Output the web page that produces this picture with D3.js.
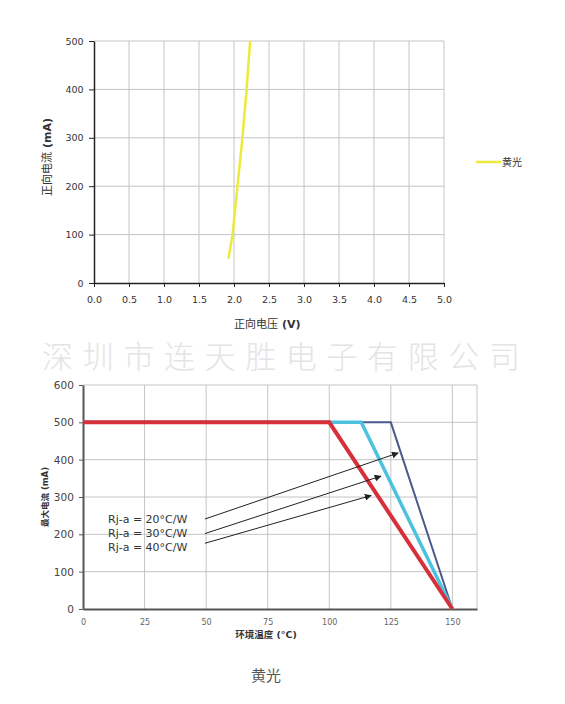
<!DOCTYPE html>
<html>
<head>
<meta charset="utf-8">
<title>黄光</title>
<script src="https://cdn.jsdelivr.net/npm/d3@7"></script>
<style>
    body { margin: 0; background: #fff; }
    svg { font-family: "DejaVu Sans", "Noto Sans CJK SC", sans-serif; }
    .grid line { stroke: #c4c4c4; stroke-width: 1; }
</style>
</head>
<body>
<div id="chart"></div>
<script>
// IV curve (top)
const ivVoltage = [1.92, 1.98, 2.05, 2.12, 2.18, 2.23];
const ivCurrent = [50, 100, 200, 300, 400, 500];
const ivTicksX = [0, 0.5, 1.0, 1.5, 2.0, 2.5, 3.0, 3.5, 4.0, 4.5, 5.0];
const ivTicksY = [0, 100, 200, 300, 400, 500];

// derating (bottom)
const tempTicks = [0, 25, 50, 75, 100, 125, 150];
const currTicks = [0, 100, 200, 300, 400, 500, 600];
const rja20 = [[0, 500], [125, 500], [150, 0]];
const rja30 = [[0, 500], [113, 500], [150, 0]];
const rja40 = [[0, 500], [100, 500], [150, 0]];
const rjaLabels = ["Rj-a = 20°C/W", "Rj-a = 30°C/W", "Rj-a = 40°C/W"];
const arrows = [
    [[49.5, 241], [128, 418]],
    [[49.5, 202], [121, 356]],
    [[49.5, 176], [117, 304]]
];

const FONT = '"DejaVu Sans", "Noto Sans CJK SC", sans-serif';

const svg = d3.select("#chart").append("svg")
    .attr("width", 565).attr("height", 704);

// ---------- top chart ----------
const x1 = d3.scaleLinear().domain([0, 5]).range([94, 444]);
const y1 = d3.scaleLinear().domain([0, 500]).range([283, 41]);

const g1 = svg.append("g");
g1.append("g").attr("class", "grid")
    .selectAll("line").data(ivTicksX.slice(1)).join("line")
    .attr("x1", d => x1(d)).attr("x2", d => x1(d))
    .attr("y1", y1(0)).attr("y2", y1(500));
g1.append("g").attr("class", "grid")
    .selectAll("line").data(ivTicksY.slice(1)).join("line")
    .attr("x1", x1(0)).attr("x2", x1(5))
    .attr("y1", d => y1(d)).attr("y2", d => y1(d));

const ax1 = g1.append("g")
    .attr("transform", `translate(0,${y1(0)})`)
    .call(d3.axisBottom(x1).tickValues(ivTicksX).tickFormat(d3.format(".1f")).tickSize(4).tickSizeOuter(0));
const ay1 = g1.append("g")
    .attr("transform", `translate(${x1(0)},0)`)
    .call(d3.axisLeft(y1).tickValues(ivTicksY).tickSize(5).tickSizeOuter(0));
[ax1, ay1].forEach(a => {
    a.attr("font-family", FONT).attr("font-size", 9.5);
    a.select(".domain").attr("stroke", "#222").attr("stroke-width", 1.5);
    a.selectAll(".tick line").attr("stroke", "#222");
    a.selectAll("text").attr("fill", "#333");
});
ax1.selectAll("text").attr("dy", "1.35em");
ay1.selectAll("text").attr("dx", "-0.25em");

g1.append("path")
    .datum(ivVoltage.map((v, i) => [v, ivCurrent[i]]))
    .attr("fill", "none").attr("stroke", "#ecea3c").attr("stroke-width", 2.5)
    .attr("d", d3.line().x(d => x1(d[0])).y(d => y1(d[1])));

const yl1 = g1.append("g").attr("transform", `translate(51,${y1(250)}) rotate(-90)`)
    .attr("font-size", 11).attr("fill", "#333");
yl1.append("text").attr("x", 10).attr("text-anchor", "end").text("正向电流");
yl1.append("text").attr("x", 14).attr("font-weight", "bold").text("(mA)");

const xl1 = g1.append("g").attr("transform", "translate(278,328)")
    .attr("font-size", 11).attr("fill", "#333");
xl1.append("text").attr("text-anchor", "end").text("正向电压");
xl1.append("text").attr("x", 4).attr("font-weight", "bold").text("(V)");

g1.append("line").attr("x1", 476).attr("x2", 501).attr("y1", 162).attr("y2", 162)
    .attr("stroke", "#ecea3c").attr("stroke-width", 2.5);
g1.append("text").attr("x", 502).attr("y", 166)
    .attr("font-size", 10).attr("fill", "#333").text("黄光");

// watermark
svg.append("text")
    .attr("x", 281).attr("y", 368)
    .attr("text-anchor", "middle")
    .attr("font-family", "Noto Sans CJK SC")
    .attr("font-weight", 300)
    .attr("font-size", 31).attr("fill", "#e4e4e4")
    .attr("textLength", 478).attr("lengthAdjust", "spacing")
    .text("深圳市连天胜电子有限公司");

// ---------- bottom chart ----------
const x2 = d3.scaleLinear().domain([0, 160]).range([83, 477]);
const y2 = d3.scaleLinear().domain([0, 600]).range([609, 385]);
const g2 = svg.append("g");

g2.append("g").attr("class", "grid")
    .selectAll("line").data([25, 50, 75, 100, 125, 150, 160]).join("line")
    .attr("x1", d => x2(d)).attr("x2", d => x2(d))
    .attr("y1", y2(0)).attr("y2", y2(600));
g2.append("g").attr("class", "grid")
    .selectAll("line").data(currTicks.slice(1)).join("line")
    .attr("x1", x2(0)).attr("x2", x2(160))
    .attr("y1", d => y2(d)).attr("y2", d => y2(d));

const ax2 = g2.append("g")
    .attr("transform", `translate(0,${y2(0)})`)
    .call(d3.axisBottom(x2).tickValues(tempTicks).tickSize(0).tickSizeOuter(0));
const ay2 = g2.append("g")
    .attr("transform", `translate(${x2(0)},0)`)
    .call(d3.axisLeft(y2).tickValues(currTicks).tickSize(4).tickSizeOuter(0));
[ax2, ay2].forEach(a => {
    a.attr("font-family", FONT);
    a.select(".domain").attr("stroke", "#555").attr("stroke-width", 2);
    a.selectAll(".tick line").attr("stroke", "#555");
});
ax2.attr("font-size", 8);
ax2.selectAll("text").attr("fill", "#666").attr("dy", "1.6em");
ay2.attr("font-size", 10.5);
ay2.selectAll("text").attr("fill", "#444").attr("dx", "-0.2em");

const line2 = d3.line().x(d => x2(d[0])).y(d => y2(d[1]));
g2.append("path").datum(rja20).attr("fill", "none")
    .attr("stroke", "#4a5a8c").attr("stroke-width", 2).attr("d", line2);
g2.append("path").datum(rja30).attr("fill", "none")
    .attr("stroke", "#4cc2df").attr("stroke-width", 3.5).attr("d", line2);
g2.append("path").datum(rja40).attr("fill", "none")
    .attr("stroke", "#d7303a").attr("stroke-width", 4).attr("d", line2);

svg.append("defs").append("marker")
    .attr("id", "arr").attr("viewBox", "0 0 10 10")
    .attr("refX", 9).attr("refY", 5)
    .attr("markerWidth", 7).attr("markerHeight", 7)
    .attr("markerUnits", "userSpaceOnUse")
    .attr("orient", "auto")
    .append("path").attr("d", "M0,0L10,5L0,10z").attr("fill", "#222");

g2.selectAll(".arrow").data(arrows).join("line")
    .attr("class", "arrow")
    .attr("x1", d => x2(d[0][0])).attr("y1", d => y2(d[0][1]))
    .attr("x2", d => x2(d[1][0])).attr("y2", d => y2(d[1][1]))
    .attr("stroke", "#222").attr("stroke-width", 1)
    .attr("marker-end", "url(#arr)");

g2.selectAll(".rja").data(rjaLabels).join("text")
    .attr("class", "rja")
    .attr("x", 108).attr("y", (d, i) => 523 + i * 14)
    .attr("font-size", 11).attr("fill", "#333")
    .text(d => d);

g2.append("text")
    .attr("transform", `translate(48,${y2(300)}) rotate(-90)`)
    .attr("text-anchor", "middle").attr("font-size", 8.5).attr("font-weight", "bold").attr("fill", "#333")
    .text("最大电流 (mA)");
g2.append("text")
    .attr("x", 266).attr("y", 638)
    .attr("text-anchor", "middle").attr("font-size", 9.5).attr("font-weight", "bold").attr("fill", "#333")
    .text("环境温度 (°C)");

svg.append("text")
    .attr("x", 266).attr("y", 681)
    .attr("text-anchor", "middle")
    .attr("font-family", "Noto Sans CJK SC")
    .attr("font-size", 15).attr("fill", "#555")
    .text("黄光");
</script>
</body>
</html>
